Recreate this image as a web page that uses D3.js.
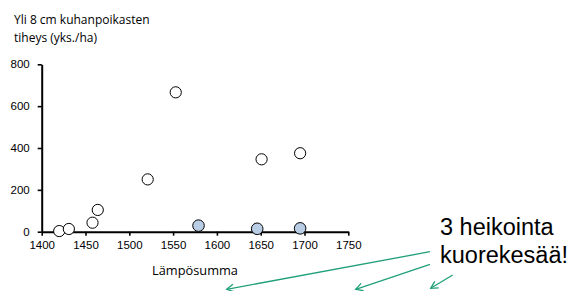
<!DOCTYPE html>
<meta charset="utf-8">
<style>
body { margin: 0; background: #fff; }
svg { font-family: "Open Sans", sans-serif; }
.axis path, .axis line { stroke: #000; fill: none; }
.axis path { stroke-width: 2; }
.axis line { stroke-width: 1.6; }
.axis text { font-size: 11.5px; fill: #000; }
</style>
<body>
<script src="https://cdn.jsdelivr.net/npm/d3@7"></script>
<script>
// lämpösumma vs. density, open = normal years, filled = weak smelt years
var openX = [1420, 1431, 1458, 1464, 1521, 1553, 1651, 1695];
var openY = [3, 13, 43, 104, 250, 666, 346, 375];
var weakX = [1579, 1646, 1695];
var weakY = [29, 14, 16];
var xTicks = [1400, 1450, 1500, 1550, 1600, 1650, 1700, 1750];
var yTicks = [0, 200, 400, 600, 800];

var width = 574, height = 291;
var svg = d3.select("body").append("svg")
  .attr("width", width)
  .attr("height", height);

var x = d3.scaleLinear().domain([1400, 1750]).range([41.7, 348.3]);
var y = d3.scaleLinear().domain([0, 800]).range([231.7, 64.3]);

svg.append("g")
  .attr("class", "axis")
  .attr("transform", "translate(0," + y(0) + ")")
  .call(d3.axisBottom(x).tickValues(xTicks).tickSize(4).tickSizeOuter(0).tickPadding(5).tickFormat(d3.format("d")));

svg.append("g")
  .attr("class", "axis")
  .attr("transform", "translate(" + x(1400) + ",0)")
  .call(d3.axisLeft(y).tickValues(yTicks).tickSize(4).tickSizeOuter(0).tickPadding(8).tickFormat(d3.format("d")));

// points
svg.selectAll("circle.open")
  .data(openX)
  .enter().append("circle")
  .attr("class", "open")
  .attr("cx", function (d) { return x(d); })
  .attr("cy", function (d, i) { return y(openY[i]); })
  .attr("r", 5.6)
  .attr("fill", "#fff")
  .attr("stroke", "#000")
  .attr("stroke-width", 1);

svg.selectAll("circle.weak")
  .data(weakX)
  .enter().append("circle")
  .attr("class", "weak")
  .attr("cx", function (d) { return x(d); })
  .attr("cy", function (d, i) { return y(weakY[i]); })
  .attr("r", 5.8)
  .attr("fill", "#b9cde5")
  .attr("stroke", "#000")
  .attr("stroke-width", 1);

// titles
var ttl = svg.append("text").attr("x", 14).attr("font-size", "12px");
ttl.append("tspan").attr("x", 14).attr("y", 24).text("Yli 8 cm kuhanpoikasten");
ttl.append("tspan").attr("x", 14).attr("y", 42).text("tiheys (yks./ha)");

svg.append("text")
  .attr("x", 195).attr("y", 275)
  .attr("text-anchor", "middle")
  .attr("font-size", "12.8px")
  .text("Lämpösumma");

// annotation
var ann = svg.append("text")
  .attr("font-family", "'Liberation Sans', Arial, sans-serif")
  .attr("font-size", "23.5px");
ann.append("tspan").attr("x", 440).attr("y", 235).text("3 heikointa");
ann.append("tspan").attr("x", 440).attr("y", 263).text("kuorekesää!");

var green = "#20a07a";
var arrows = [
  [430, 251.7, 226.7, 289.3],
  [430, 264.3, 355.7, 289.3],
  [452.7, 275, 430.7, 288.3]
];
arrows.forEach(function (a) {
  var ang = Math.atan2(a[3] - a[1], a[2] - a[0]);
  var L = 8, s = 0.5;
  svg.append("line")
    .attr("x1", a[0]).attr("y1", a[1]).attr("x2", a[2]).attr("y2", a[3])
    .attr("stroke", green).attr("stroke-width", 1.3);
  svg.append("path")
    .attr("d", "M" + (a[2] - L * Math.cos(ang - s)) + "," + (a[3] - L * Math.sin(ang - s)) +
      "L" + a[2] + "," + a[3] +
      "L" + (a[2] - L * Math.cos(ang + s)) + "," + (a[3] - L * Math.sin(ang + s)))
    .attr("fill", "none").attr("stroke", green).attr("stroke-width", 1.3);
});
</script>
